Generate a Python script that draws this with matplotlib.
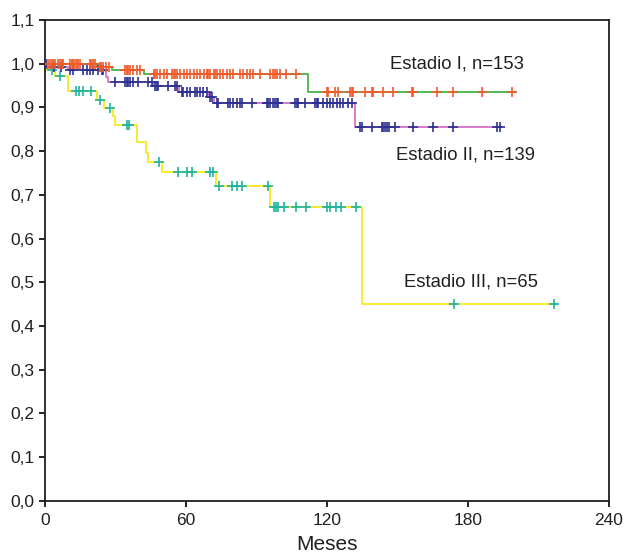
import matplotlib
matplotlib.use('Agg')
import matplotlib.pyplot as plt
import numpy as np
from matplotlib.ticker import FuncFormatter

plt.rcParams['font.family'] = ['Liberation Sans', 'DejaVu Sans']

# Kaplan-Meier steps (months, survival)
s1_t = [0, 22, 28.5, 42, 112, 200]
s1_s = [1.0, 0.993, 0.985, 0.977, 0.936, 0.936]
s1_cens = [1.5, 2.2, 2.9, 3.6, 4.3, 5.7, 6.4, 7.1, 7.8, 10.7, 11.4, 12.1, 12.8, 13.5,
           14.2, 14.9, 19.1, 19.8, 20.5, 21.2,
           23.3, 24.0, 24.7, 26.1, 27.5,
           34.1, 34.8, 35.5, 36.3, 37.7, 39.1, 40.5,
           46.3, 47.0, 47.7, 49.1, 50.5, 52.0, 54.1, 54.8, 55.5, 56.2, 57.6, 59.0, 60.4,
           61.8, 63.3, 64.7, 66.1, 67.5, 68.9, 69.6, 70.3, 71.8, 72.4, 73.1, 74.6, 76.0,
           77.4, 78.8, 80.2, 83.1, 84.4, 85.8, 87.2, 88.6, 91.5, 95.8, 97.2, 97.8, 98.6,
           100.0, 102.8, 107.0,
           120.0, 120.6, 123.5, 124.9, 129.9, 130.6, 131.3, 136.3, 139.1, 139.8, 144.0,
           148.3, 156.1, 156.8, 166.8, 173.8, 185.9, 198.7]

s2_t = [0, 1, 10, 26, 27, 46, 57, 70, 72, 132, 194]
s2_s = [1.0, 0.993, 0.986, 0.97, 0.959, 0.95, 0.936, 0.924, 0.91, 0.856, 0.856]
s2_cens = [0.5, 4, 7,
           10.7, 12.1, 16.4, 17.8, 19.2, 20.6, 22.8, 24.2, 24.9,
           29.9, 34.1, 34.8, 35.5, 36.3, 37.7, 39.8, 44, 45.5,
           46.9, 47.6, 48.3, 52.6, 55.4, 56.1,
           58.3, 58.9, 60.4, 61.8, 63.9, 64.6, 66, 67.4, 68.9,
           70.3, 71,
           73.1, 73.8, 78.1, 78.8, 80.2, 81.7, 83.1, 83.8, 88, 94.4, 95.1, 95.8, 97.2, 98,
           98.7, 99.4, 106.5, 107.2, 107.9, 110.7, 115, 115.7, 116.4, 118.5, 119.9, 121.4,
           122.8, 124.2, 125.6, 127, 129.1, 130.6,
           134.1, 134.8, 139.1, 143.4, 144, 144.8, 145.5, 146.2, 149, 156.8, 165.3, 173.8,
           192.3, 193.7]

s3_t = [0, 1.1, 4.3, 10, 22, 25, 29, 30, 39, 43, 44, 50, 72.8, 95.8, 135, 217]
s3_s = [1.0, 0.986, 0.971, 0.937, 0.917, 0.898, 0.881, 0.86, 0.82, 0.796, 0.776, 0.753,
        0.719, 0.673, 0.449, 0.449]
s3_cens = [2.9, 6.6, 13.3, 14.4, 16.1, 19.7, 23.3, 27.7, 35, 36, 48.4, 56.8, 60.4, 62.5,
           70.3, 71.7, 74, 79.6, 81.7, 83.9, 95, 97.4, 98.5, 99, 101.8, 106.8, 111, 120,
           121.5, 123.8, 126, 132.4, 174, 216.7]

labels = ['Estadio I, n=153', 'Estadio II, n=139', 'Estadio III, n=65']
label_pos = [(147, 1.0), (149.5, 0.79), (153, 0.50)]


def at(times, surv, t):
    i = np.searchsorted(times, t, side='right') - 1
    return np.array(surv)[i]


fig = plt.figure(figsize=(6.27, 5.54), dpi=100)
ax = fig.add_axes([0.0715, 0.0962, 0.8998, 0.8677])

curves = [(s3_t, s3_s, s3_cens, '#f7ea1c', '#1fb3a0'),
          (s2_t, s2_s, s2_cens, '#d672c4', '#2e3192'),
          (s1_t, s1_s, s1_cens, '#45b649', '#f15a29')]
for t, s, c, lc, mc in curves:
    ax.step(t, s, where='post', color=lc, lw=1.3, zorder=2)
    ax.plot(c, at(t, s, c), ls='none', marker='+', ms=7.5, mew=1.2, color=mc, zorder=3)

for txt, (x, y) in zip(labels, label_pos):
    ax.text(x, y, txt, fontsize=13.3, color='#231f20', va='center', ha='left')

ax.set_xlim(0, 240)
ax.set_ylim(0, 1.1)
ax.set_xticks([0, 60, 120, 180, 240])
ax.set_yticks(np.arange(0, 1.11, 0.1))
ax.yaxis.set_major_formatter(FuncFormatter(lambda v, p: f'{v:.1f}'.replace('.', ',')))
ax.tick_params(direction='out', length=4, width=1.2, labelsize=12.5, labelcolor='#231f20')
ax.tick_params(axis='x', pad=5)
for sp in ax.spines.values():
    sp.set_linewidth(1.3)
    sp.set_color('#231f20')
ax.set_xlabel('Meses', fontsize=15, color='#231f20', labelpad=5)

fig.savefig('out.png', dpi=100)
